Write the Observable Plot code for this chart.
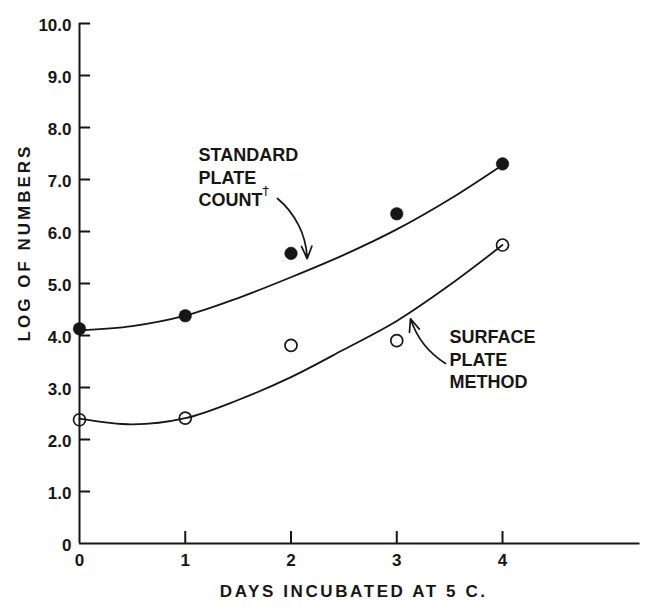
<!DOCTYPE html>
<html>
<head>
<meta charset="utf-8">
<script src="https://cdn.jsdelivr.net/npm/d3@7"></script>
<script src="https://cdn.jsdelivr.net/npm/@observablehq/plot@0.6"></script>
<style>
  html, body { margin: 0; padding: 0; background: #fff; }
  svg { display: block; }
</style>
</head>
<body>
<div id="chart"></div>
<script>
// Observed values
const days = [0, 1, 2, 3, 4];
const standardCount = [4.13, 4.38, 5.58, 6.34, 7.30];
const surfaceMethod = [2.38, 2.41, 3.81, 3.90, 5.74];

// Hand-drawn fitted curves
const fitDays = [0, 0.5, 1, 1.5, 2, 2.5, 3, 3.5, 4];
const standardFit = [4.10, 4.18, 4.38, 4.72, 5.12, 5.55, 6.04, 6.62, 7.28];
const surfaceFit = [2.40, 2.29, 2.41, 2.76, 3.20, 3.73, 4.28, 4.97, 5.74];

// Ticks
const yTicks = [0, 1, 2, 3, 4, 5, 6, 7, 8, 9, 10];
const yTickLabels = ["0", "1.0", "2.0", "3.0", "4.0", "5.0", "6.0", "7.0", "8.0", "9.0", "10.0"];
const xTicks = [0, 1, 2, 3, 4];
const xTickLabels = ["0", "1", "2", "3", "4"];

const xTitle = "DAYS INCUBATED AT 5 C.";
const yTitle = "LOG OF NUMBERS";

const standardPts = days.map((d, i) => ({day: d, value: standardCount[i]}));
const surfacePts = days.map((d, i) => ({day: d, value: surfaceMethod[i]}));
const standardLine = fitDays.map((d, i) => ({day: d, value: standardFit[i]}));
const surfaceLine = fitDays.map((d, i) => ({day: d, value: surfaceFit[i]}));

// Annotations (positions in data units)
const noteStandard = "STANDARD\nPLATE\nCOUNT";
const noteSurface = "SURFACE\nPLATE\nMETHOD";
const notes = [
  {x: 1.125, y: 7.654, text: noteStandard},
  {x: 3.499, y: 4.154, text: noteSurface}
];
const dagger = [{x: 1.76, y: 6.78, text: "†"}];
const arrowStandard = [{x1: 1.872, y1: 6.635, x2: 2.153, y2: 5.475}];
const arrowSurface = [{x1: 3.461, y1: 3.462, x2: 3.130, y2: 4.321}];

const yLabel = new Map(yTicks.map((t, i) => [t, yTickLabels[i]]));
const xLabel = new Map(xTicks.map((t, i) => [t, xTickLabels[i]]));

const font = "Liberation Sans, Arial, sans-serif";
const ink = "#161616";

const chart = Plot.plot({
  width: 650,
  height: 607,
  marginLeft: 79,
  marginRight: 10.5,
  marginTop: 23,
  marginBottom: 64,
  style: {background: "#fff", fontFamily: font, color: ink},
  x: {domain: [0, 5.3], axis: null},
  y: {domain: [0, 10], axis: null},
  marks: [
    // axis lines
    Plot.ruleX([0], {y1: 0, y2: 10, stroke: ink, strokeWidth: 2}),
    Plot.ruleY([0], {x1: 0, x2: 5.3, stroke: ink, strokeWidth: 2}),
    // inward ticks
    Plot.ruleY(yTicks.filter(d => d > 0), {y: d => d, x1: 0, x2: 0.105, stroke: ink, strokeWidth: 2}),
    Plot.ruleX(xTicks.filter(d => d > 0), {x: d => d, y1: 0, y2: 0.23, stroke: ink, strokeWidth: 2}),
    // tick labels
    Plot.axisY(yTicks, {tickSize: 0, tickPadding: 8, tickFormat: d => yLabel.get(d), fontSize: 17, fontWeight: "bold", dy: 2, fill: ink}),
    Plot.axisX(xTicks, {tickSize: 0, tickPadding: 10, tickFormat: d => xLabel.get(d), fontSize: 17, fontWeight: "bold", fill: ink}),
    // axis titles
    Plot.text([yTitle], {text: d => d, frameAnchor: "left", textAnchor: "middle", dx: -55, dy: -41, rotate: -90, fontSize: 17, fontWeight: "bold", fill: ink}),
    Plot.text([xTitle], {text: d => d, frameAnchor: "bottom", textAnchor: "middle", dx: -6, dy: 53, fontSize: 17, fontWeight: "bold", fill: ink}),
    // fitted curves
    Plot.line(standardLine, {x: "day", y: "value", curve: "catmull-rom", stroke: ink, strokeWidth: 1.8}),
    Plot.line(surfaceLine, {x: "day", y: "value", curve: "catmull-rom", stroke: ink, strokeWidth: 1.8}),
    // points
    Plot.dot(standardPts, {x: "day", y: "value", r: 6.3, fill: ink, stroke: ink, strokeWidth: 0.5}),
    Plot.dot(surfacePts, {x: "day", y: "value", r: 6, fill: "none", stroke: ink, strokeWidth: 1.7}),
    // annotations
    Plot.text(notes, {x: "x", y: "y", text: "text", textAnchor: "start", lineAnchor: "top", lineHeight: 1.25, fontSize: 18, fontWeight: "bold", fill: ink}),
    Plot.text(dagger, {x: "x", y: "y", text: "text", fontSize: 13, fontFamily: "DejaVu Sans, sans-serif", fill: ink}),
    Plot.arrow(arrowStandard, {x1: "x1", y1: "y1", x2: "x2", y2: "y2", bend: 24, headLength: 12, headAngle: 45, stroke: ink, strokeWidth: 1.7}),
    Plot.arrow(arrowSurface, {x1: "x1", y1: "y1", x2: "x2", y2: "y2", bend: 20, headLength: 12, headAngle: 45, stroke: ink, strokeWidth: 1.7})
  ]
});

chart.querySelectorAll("text").forEach(t => {
  const s = t.textContent;
  if (s === xTitle) t.setAttribute("letter-spacing", "2.6");
  else if (s === yTitle) t.setAttribute("letter-spacing", "3");
});

document.getElementById("chart").appendChild(chart);
</script>
</body>
</html>
